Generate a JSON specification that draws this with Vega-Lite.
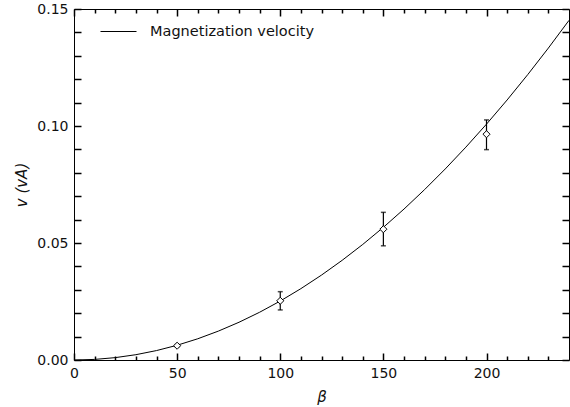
{
  "$schema": "https://vega.github.io/schema/vega-lite/v6.json",
  "width": 495,
  "height": 351,
  "autosize": {"type": "none"},
  "padding": {"left": 74, "top": 9, "right": 1, "bottom": 47},
  "background": "white",
  "datasets": {
    "curve": [
      {"beta": 0, "v": 0.0},
      {"beta": 10, "v": 0.00025},
      {"beta": 20, "v": 0.00101},
      {"beta": 30, "v": 0.00227},
      {"beta": 40, "v": 0.00403},
      {"beta": 50, "v": 0.0063},
      {"beta": 60, "v": 0.00907},
      {"beta": 70, "v": 0.01235},
      {"beta": 80, "v": 0.01613},
      {"beta": 90, "v": 0.02041},
      {"beta": 100, "v": 0.0252},
      {"beta": 110, "v": 0.03049},
      {"beta": 120, "v": 0.03629},
      {"beta": 130, "v": 0.04259},
      {"beta": 140, "v": 0.04939},
      {"beta": 150, "v": 0.0567},
      {"beta": 160, "v": 0.06451},
      {"beta": 170, "v": 0.07283},
      {"beta": 180, "v": 0.08165},
      {"beta": 190, "v": 0.09097},
      {"beta": 200, "v": 0.1008},
      {"beta": 210, "v": 0.11113},
      {"beta": 220, "v": 0.12197},
      {"beta": 230, "v": 0.13331},
      {"beta": 240, "v": 0.14515}
    ],
    "runs": [
      {"beta": 50, "v": 0.0061, "lo": 0.0057, "hi": 0.0066},
      {"beta": 100, "v": 0.0253, "lo": 0.0214, "hi": 0.0292},
      {"beta": 150, "v": 0.0559, "lo": 0.0488, "hi": 0.0631},
      {"beta": 200, "v": 0.0965, "lo": 0.0899, "hi": 0.1026}
    ]
  },
  "config": {
    "view": {"stroke": null},
    "axis": {
      "domainColor": "black",
      "domainWidth": 1,
      "grid": false,
      "labelFont": "DejaVu Sans",
      "labelFontSize": 14,
      "labelColor": "#111",
      "titleFont": "DejaVu Sans",
      "titleFontSize": 15,
      "titleFontStyle": "italic",
      "titleFontWeight": "normal",
      "titleColor": "#111"
    },
    "legend": {
      "labelFont": "DejaVu Sans",
      "labelFontSize": 14,
      "labelColor": "#111",
      "labelLimit": 400
    }
  },
  "resolve": {"axis": {"x": "independent", "y": "independent"}},
  "layer": [
    {
      "data": {"name": "curve"},
      "mark": {"type": "line", "stroke": "black", "strokeWidth": 1, "clip": true},
      "encoding": {
        "x": {
          "field": "beta", "type": "quantitative",
          "scale": {"domain": [0, 240], "nice": false},
          "axis": {
            "orient": "bottom", "values": [0, 50, 100, 150, 200],
            "tickSize": -7, "tickColor": "#000000", "tickWidth": 1.5, "tickOpacity": 1,
            "labelPadding": 13, "labelFlush": false, "title": "β", "titlePadding": 9
          }
        },
        "y": {
          "field": "v", "type": "quantitative",
          "scale": {"domain": [0, 0.15], "nice": false},
          "axis": {
            "orient": "left", "values": [0, 0.05, 0.1, 0.15], "format": ".2f",
            "tickSize": -7, "tickColor": "#000000", "tickWidth": 1.5, "tickOpacity": 1,
            "labelPadding": 13, "labelFlush": false, "title": "v (vA)", "titlePadding": 7
          }
        },
        "color": {
          "datum": "Magnetization velocity",
          "scale": {"range": ["black"]},
          "legend": {
            "title": null, "orient": "none", "legendX": 26, "legendY": 4,
            "symbolType": "stroke", "symbolSize": 1296, "symbolStrokeWidth": 1,
            "labelOffset": 13, "padding": 0, "labelFontSize": 14.5
          }
        }
      }
    },
    {
      "data": {"name": "runs"},
      "mark": {"type": "rule", "stroke": "black", "strokeWidth": 1.2},
      "encoding": {
        "x": {
          "field": "beta", "type": "quantitative",
          "axis": {
            "orient": "bottom",
            "values": [10, 20, 30, 40, 60, 70, 80, 90, 110, 120, 130, 140, 160, 170, 180, 190, 210, 220, 230],
            "tickSize": -4, "tickColor": "#000000", "tickWidth": 1.5, "tickOpacity": 1,
            "labels": false, "domain": false, "title": null
          }
        },
        "y": {
          "field": "lo", "type": "quantitative",
          "axis": {
            "orient": "left",
            "values": [0.01, 0.02, 0.03, 0.04, 0.06, 0.07, 0.08, 0.09, 0.11, 0.12, 0.13, 0.14],
            "tickSize": -7, "tickColor": "#000000", "tickWidth": 1.5, "tickOpacity": 1,
            "labels": false, "domain": false, "title": null
          }
        },
        "y2": {"field": "hi"}
      }
    },
    {
      "data": {"name": "runs"},
      "mark": {"type": "tick", "orient": "horizontal", "size": 5, "thickness": 1.5, "color": "black"},
      "encoding": {
        "x": {
          "field": "beta", "type": "quantitative",
          "axis": {
            "orient": "top", "values": [0, 50, 100, 150, 200],
            "tickSize": -7, "tickColor": "#000000", "tickWidth": 1.5, "tickOpacity": 1,
            "labels": false, "title": null
          }
        },
        "y": {
          "field": "lo", "type": "quantitative",
          "axis": {
            "orient": "right", "values": [0, 0.05, 0.1, 0.15],
            "tickSize": -7, "tickColor": "#000000", "tickWidth": 1.5, "tickOpacity": 1,
            "labels": false, "title": null
          }
        }
      }
    },
    {
      "data": {"name": "runs"},
      "mark": {"type": "tick", "orient": "horizontal", "size": 5, "thickness": 1.5, "color": "black"},
      "encoding": {
        "x": {
          "field": "beta", "type": "quantitative",
          "axis": {
            "orient": "top",
            "values": [10, 20, 30, 40, 60, 70, 80, 90, 110, 120, 130, 140, 160, 170, 180, 190, 210, 220, 230],
            "tickSize": -4, "tickColor": "#000000", "tickWidth": 1.5, "tickOpacity": 1,
            "labels": false, "domain": false, "title": null
          }
        },
        "y": {
          "field": "hi", "type": "quantitative",
          "axis": {
            "orient": "right",
            "values": [0.01, 0.02, 0.03, 0.04, 0.06, 0.07, 0.08, 0.09, 0.11, 0.12, 0.13, 0.14],
            "tickSize": -7, "tickColor": "#000000", "tickWidth": 1.5, "tickOpacity": 1,
            "labels": false, "domain": false, "title": null
          }
        }
      }
    },
    {
      "data": {"name": "runs"},
      "mark": {"type": "point", "shape": "diamond", "filled": true, "fill": "white", "stroke": "black", "strokeWidth": 1, "size": 50, "opacity": 1},
      "encoding": {
        "x": {"field": "beta", "type": "quantitative", "axis": null},
        "y": {"field": "v", "type": "quantitative", "axis": null}
      }
    }
  ]
}
